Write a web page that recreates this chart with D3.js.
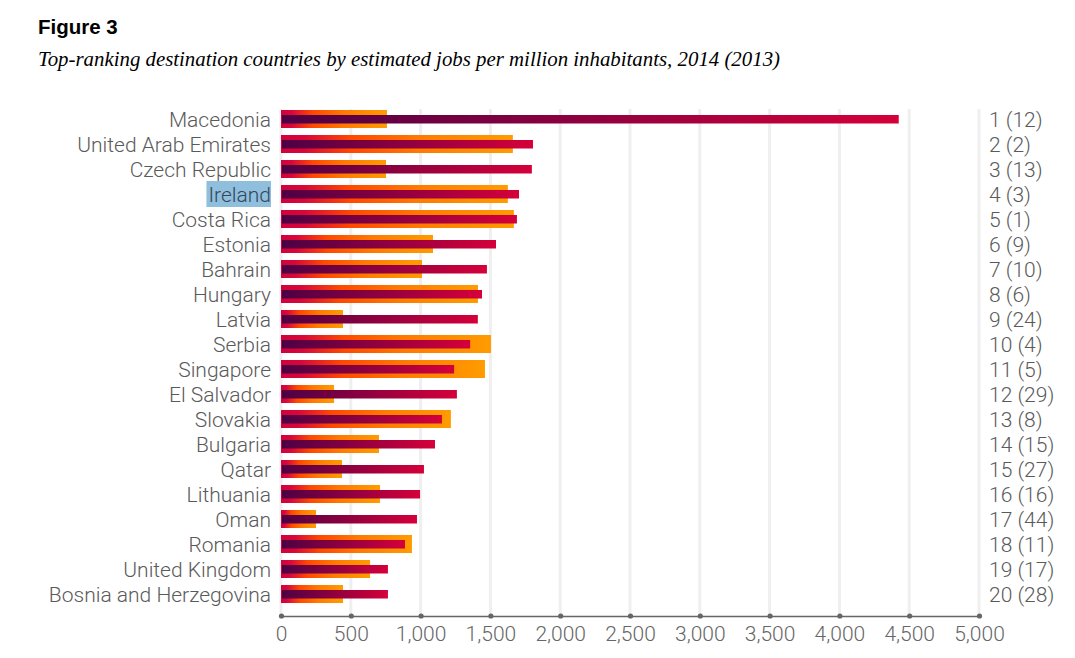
<!DOCTYPE html>
<html>
<head>
<meta charset="utf-8">
<script src="https://cdn.jsdelivr.net/npm/d3@7"></script>
<style>
  html, body { margin: 0; padding: 0; background: #fff; }
  svg { display: block; }
</style>
</head>
<body>
<svg id="chart" width="1075" height="658"></svg>
<script>
// ---- Data ----
const countries = ["Macedonia", "United Arab Emirates", "Czech Republic", "Ireland", "Costa Rica",
  "Estonia", "Bahrain", "Hungary", "Latvia", "Serbia", "Singapore", "El Salvador", "Slovakia",
  "Bulgaria", "Qatar", "Lithuania", "Oman", "Romania", "United Kingdom", "Bosnia and Herzegovina"];
const jobs2014 = [4425, 1805, 1797, 1705, 1690, 1540, 1475, 1440, 1410, 1355, 1240, 1260, 1153,
  1103, 1024, 996, 974, 888, 766, 766];
const jobs2013 = [759, 1661, 752, 1625, 1668, 1089, 1010, 1411, 444, 1504, 1461, 380, 1217,
  702, 437, 709, 251, 938, 638, 444];
const rankLabels = ["1 (12)", "2 (2)", "3 (13)", "4 (3)", "5 (1)", "6 (9)", "7 (10)", "8 (6)",
  "9 (24)", "10 (4)", "11 (5)", "12 (29)", "13 (8)", "14 (15)", "15 (27)", "16 (16)", "17 (44)",
  "18 (11)", "19 (17)", "20 (28)"];
const xTicks = [0, 500, 1000, 1500, 2000, 2500, 3000, 3500, 4000, 4500, 5000];
const highlighted = "Ireland";
const titleText = "Figure 3";
const subtitleText = "Top-ranking destination countries by estimated jobs per million inhabitants, 2014 (2013)";

// ---- Drawing ----
const svg = d3.select("#chart");
const sans = "'Roboto', 'Liberation Sans', Arial, sans-serif";

const x = d3.scaleLinear().domain([0, 5000]).range([281, 979]);
const y = d3.scaleBand().domain(countries).range([106.5, 606.5]).padding(0);
const cy = c => y(c) + y.bandwidth() / 2;

const defs = svg.append("defs");
const gOr = defs.append("linearGradient").attr("id", "gOrange")
  .attr("x1", 0).attr("x2", 1).attr("y1", 0).attr("y2", 0);
[[0, "#cf003d"], [0.1, "#d8073a"], [0.3, "#ff4800"], [0.6, "#ff7a00"], [1, "#ff9c00"]]
  .forEach(([o, c]) => gOr.append("stop").attr("offset", o).attr("stop-color", c));
const gRd = defs.append("linearGradient").attr("id", "gRed")
  .attr("x1", 0).attr("x2", 1).attr("y1", 0).attr("y2", 0);
[[0, "#4d0044"], [1, "#d5003a"]]
  .forEach(([o, c]) => gRd.append("stop").attr("offset", o).attr("stop-color", c));

// Title
svg.append("text").attr("x", 38).attr("y", 34)
  .attr("font-family", "'Liberation Sans', Arial, sans-serif").attr("font-weight", "bold")
  .attr("font-size", 20.5).attr("fill", "#000").text(titleText);
svg.append("text").attr("x", 38).attr("y", 66)
  .attr("font-family", "'Liberation Serif', 'DejaVu Serif', serif").attr("font-style", "italic")
  .attr("font-size", 20).attr("fill", "#000")
  .attr("textLength", 742).attr("lengthAdjust", "spacingAndGlyphs")
  .text(subtitleText);

// Grid lines
svg.append("g").selectAll("line").data(xTicks).join("line")
  .attr("x1", d => x(d)).attr("x2", d => x(d))
  .attr("y1", 109).attr("y2", 616)
  .attr("stroke", "#efefef").attr("stroke-width", 3);

// Bars
const rows = countries.map((c, i) => ({ c, v14: jobs2014[i], v13: jobs2013[i], rank: rankLabels[i] }));
svg.append("g").selectAll("rect").data(rows).join("rect")
  .attr("x", x(0)).attr("y", d => cy(d.c) - 9)
  .attr("width", d => x(d.v13) - x(0)).attr("height", 18)
  .attr("fill", "url(#gOrange)");
svg.append("g").selectAll("rect").data(rows).join("rect")
  .attr("x", x(0) + 1).attr("y", d => cy(d.c) - 4)
  .attr("width", d => x(d.v14) - x(0) - 1).attr("height", 8.5)
  .attr("fill", "url(#gRed)");

// Country labels
const labG = svg.append("g");
rows.forEach(d => {
  const t = labG.append("text").attr("x", 271).attr("y", cy(d.c))
    .attr("dy", "0.36em").attr("text-anchor", "end")
    .attr("font-family", sans).attr("font-weight", 300).attr("font-size", 21)
    .attr("fill", d.c === highlighted ? "#33475a" : "#5a5a5a").text(d.c);
  if (d.c === highlighted) {
    const bb = t.node().getBBox();
    labG.insert("rect", "text").attr("x", bb.x - 2).attr("y", cy(d.c) - 13)
      .attr("width", 271 - bb.x + 2).attr("height", 26).attr("fill", "#8fbfdd");
  }
});

// Rank labels
svg.append("g").selectAll("text").data(rows).join("text")
  .attr("x", 989).attr("y", d => cy(d.c)).attr("dy", "0.36em")
  .attr("font-family", sans).attr("font-weight", 300).attr("font-size", 21)
  .attr("fill", "#5a5a5a").text(d => d.rank);

// X axis
const axis = d3.axisBottom(x).tickValues(xTicks).tickFormat(d3.format(",")).tickSize(0).tickPadding(10);
const ag = svg.append("g").attr("transform", "translate(0,616)").call(axis);
ag.select(".domain").attr("stroke", "#666").attr("stroke-width", 1.6);
ag.selectAll(".tick text").attr("font-family", sans).attr("font-weight", 300)
  .attr("font-size", 21).attr("fill", "#666");
ag.selectAll(".tick").append("circle").attr("r", 2.6).attr("fill", "#666");
</script>
</body>
</html>
